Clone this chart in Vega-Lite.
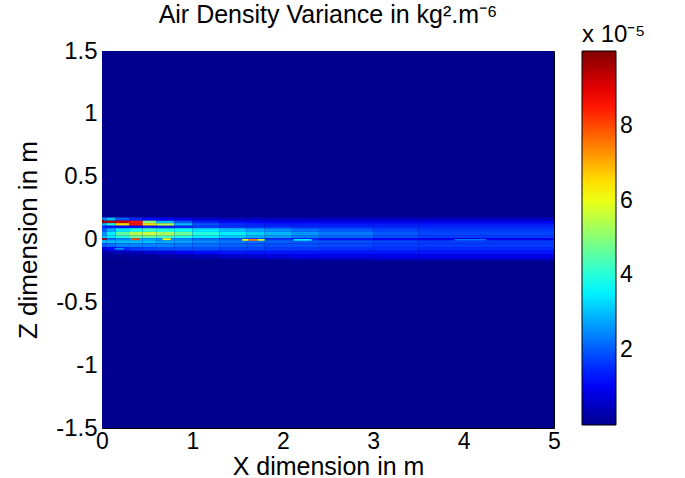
{
 "$schema": "https://vega.github.io/schema/vega-lite/v6.json",
 "width": 452,
 "height": 377,
 "autosize": {"type": "none"},
 "padding": {"left": 102, "top": 51, "right": 131, "bottom": 50},
 "background": "white",
 "title": {"text": "Air Density Variance in kg².m⁻⁶", "fontSize": 25, "font": "Liberation Sans", "fontWeight": "normal", "color": "black", "offset": 0, "dy": 5, "frame": "group", "anchor": "middle"},
 "data": {"values": [
  {"a":0,"b":5,"c":-1.5,"d":1.5,"v":0},
  {"a":0,"b":0.05,"c":0.15,"d":0.175,"v":2.5},{"a":0.05,"b":0.15,"c":0.15,"d":0.175,"v":3},{"a":0.15,"b":0.3,"c":0.15,"d":0.175,"v":2},{"a":0.3,"b":0.45,"c":0.15,"d":0.175,"v":1.5},{"a":0.45,"b":0.6,"c":0.15,"d":0.175,"v":1.2},{"a":0.6,"b":0.8,"c":0.15,"d":0.175,"v":1},{"a":0.8,"b":1,"c":0.15,"d":0.175,"v":0.9},{"a":1,"b":1.3,"c":0.15,"d":0.175,"v":0.6},{"a":1.3,"b":1.6,"c":0.15,"d":0.175,"v":0.5},{"a":1.6,"b":1.8,"c":0.15,"d":0.175,"v":0.5},{"a":1.8,"b":2.1,"c":0.15,"d":0.175,"v":0.5},{"a":2.1,"b":2.4,"c":0.15,"d":0.175,"v":0.5},{"a":2.4,"b":3,"c":0.15,"d":0.175,"v":0.5},{"a":3,"b":3.5,"c":0.15,"d":0.175,"v":0.5},{"a":3.5,"b":5,"c":0.15,"d":0.175,"v":0.5},
  {"a":0,"b":0.05,"c":0.13,"d":0.15,"v":9.8},{"a":0.05,"b":0.15,"c":0.13,"d":0.15,"v":9.5},{"a":0.15,"b":0.3,"c":0.13,"d":0.15,"v":9.2},{"a":0.3,"b":0.45,"c":0.13,"d":0.15,"v":8.5},{"a":0.45,"b":0.6,"c":0.13,"d":0.15,"v":5},{"a":0.6,"b":0.8,"c":0.13,"d":0.15,"v":3},{"a":0.8,"b":1,"c":0.13,"d":0.15,"v":2},{"a":1,"b":1.3,"c":0.13,"d":0.15,"v":1.4},{"a":1.3,"b":1.6,"c":0.13,"d":0.15,"v":1.2},{"a":1.6,"b":1.8,"c":0.13,"d":0.15,"v":1.1},{"a":1.8,"b":2.1,"c":0.13,"d":0.15,"v":1},{"a":2.1,"b":2.4,"c":0.13,"d":0.15,"v":1},{"a":2.4,"b":3,"c":0.13,"d":0.15,"v":1},{"a":3,"b":3.5,"c":0.13,"d":0.15,"v":1},{"a":3.5,"b":5,"c":0.13,"d":0.15,"v":1},
  {"a":0,"b":0.05,"c":0.11,"d":0.13,"v":3},{"a":0.05,"b":0.15,"c":0.11,"d":0.13,"v":4},{"a":0.15,"b":0.3,"c":0.11,"d":0.13,"v":6.5},{"a":0.3,"b":0.45,"c":0.11,"d":0.13,"v":8.5},{"a":0.45,"b":0.6,"c":0.11,"d":0.13,"v":6.5},{"a":0.6,"b":0.8,"c":0.11,"d":0.13,"v":5.5},{"a":0.8,"b":1,"c":0.11,"d":0.13,"v":3},{"a":1,"b":1.3,"c":0.11,"d":0.13,"v":2},{"a":1.3,"b":1.6,"c":0.11,"d":0.13,"v":1.6},{"a":1.6,"b":1.8,"c":0.11,"d":0.13,"v":1.5},{"a":1.8,"b":2.1,"c":0.11,"d":0.13,"v":1.4},{"a":2.1,"b":2.4,"c":0.11,"d":0.13,"v":1.4},{"a":2.4,"b":3,"c":0.11,"d":0.13,"v":1.4},{"a":3,"b":3.5,"c":0.11,"d":0.13,"v":1.4},{"a":3.5,"b":5,"c":0.11,"d":0.13,"v":1.4},
  {"a":0,"b":0.05,"c":0.09,"d":0.11,"v":1.5},{"a":0.05,"b":0.15,"c":0.09,"d":0.11,"v":1.3},{"a":0.15,"b":0.3,"c":0.09,"d":0.11,"v":1.2},{"a":0.3,"b":0.45,"c":0.09,"d":0.11,"v":1.3},{"a":0.45,"b":0.6,"c":0.09,"d":0.11,"v":1.4},{"a":0.6,"b":0.8,"c":0.09,"d":0.11,"v":1.4},{"a":0.8,"b":1,"c":0.09,"d":0.11,"v":1.5},{"a":1,"b":1.3,"c":0.09,"d":0.11,"v":1.7},{"a":1.3,"b":1.6,"c":0.09,"d":0.11,"v":1.6},{"a":1.6,"b":1.8,"c":0.09,"d":0.11,"v":1.6},{"a":1.8,"b":2.1,"c":0.09,"d":0.11,"v":1.6},{"a":2.1,"b":2.4,"c":0.09,"d":0.11,"v":1.5},{"a":2.4,"b":3,"c":0.09,"d":0.11,"v":1.5},{"a":3,"b":3.5,"c":0.09,"d":0.11,"v":1.5},{"a":3.5,"b":5,"c":0.09,"d":0.11,"v":1.5},
  {"a":0,"b":0.05,"c":0.06,"d":0.09,"v":2},{"a":0.05,"b":0.15,"c":0.06,"d":0.09,"v":2.8},{"a":0.15,"b":0.3,"c":0.06,"d":0.09,"v":3.4},{"a":0.3,"b":0.45,"c":0.06,"d":0.09,"v":4},{"a":0.45,"b":0.6,"c":0.06,"d":0.09,"v":4.2},{"a":0.6,"b":0.8,"c":0.06,"d":0.09,"v":4},{"a":0.8,"b":1,"c":0.06,"d":0.09,"v":3.8},{"a":1,"b":1.3,"c":0.06,"d":0.09,"v":3.4},{"a":1.3,"b":1.6,"c":0.06,"d":0.09,"v":3},{"a":1.6,"b":1.8,"c":0.06,"d":0.09,"v":2.7},{"a":1.8,"b":2.1,"c":0.06,"d":0.09,"v":2.5},{"a":2.1,"b":2.4,"c":0.06,"d":0.09,"v":2.2},{"a":2.4,"b":3,"c":0.06,"d":0.09,"v":2},{"a":3,"b":3.5,"c":0.06,"d":0.09,"v":1.8},{"a":3.5,"b":5,"c":0.06,"d":0.09,"v":1.7},
  {"a":0,"b":0.05,"c":0.03,"d":0.06,"v":2.5},{"a":0.05,"b":0.15,"c":0.03,"d":0.06,"v":3.5},{"a":0.15,"b":0.3,"c":0.03,"d":0.06,"v":4.6},{"a":0.3,"b":0.45,"c":0.03,"d":0.06,"v":5.4},{"a":0.45,"b":0.6,"c":0.03,"d":0.06,"v":5.6},{"a":0.6,"b":0.8,"c":0.03,"d":0.06,"v":5.3},{"a":0.8,"b":1,"c":0.03,"d":0.06,"v":4.7},{"a":1,"b":1.3,"c":0.03,"d":0.06,"v":4},{"a":1.3,"b":1.6,"c":0.03,"d":0.06,"v":3.5},{"a":1.6,"b":1.8,"c":0.03,"d":0.06,"v":3.2},{"a":1.8,"b":2.1,"c":0.03,"d":0.06,"v":2.9},{"a":2.1,"b":2.4,"c":0.03,"d":0.06,"v":2.6},{"a":2.4,"b":3,"c":0.03,"d":0.06,"v":2.3},{"a":3,"b":3.5,"c":0.03,"d":0.06,"v":2},{"a":3.5,"b":5,"c":0.03,"d":0.06,"v":1.8},
  {"a":0,"b":0.05,"c":0.01,"d":0.03,"v":3},{"a":0.05,"b":0.15,"c":0.01,"d":0.03,"v":3.4},{"a":0.15,"b":0.3,"c":0.01,"d":0.03,"v":4},{"a":0.3,"b":0.45,"c":0.01,"d":0.03,"v":4.6},{"a":0.45,"b":0.6,"c":0.01,"d":0.03,"v":4.6},{"a":0.6,"b":0.8,"c":0.01,"d":0.03,"v":4.3},{"a":0.8,"b":1,"c":0.01,"d":0.03,"v":4},{"a":1,"b":1.3,"c":0.01,"d":0.03,"v":3.5},{"a":1.3,"b":1.6,"c":0.01,"d":0.03,"v":3.1},{"a":1.6,"b":1.8,"c":0.01,"d":0.03,"v":2.8},{"a":1.8,"b":2.1,"c":0.01,"d":0.03,"v":2.6},{"a":2.1,"b":2.4,"c":0.01,"d":0.03,"v":2.3},{"a":2.4,"b":3,"c":0.01,"d":0.03,"v":2.1},{"a":3,"b":3.5,"c":0.01,"d":0.03,"v":1.9},{"a":3.5,"b":5,"c":0.01,"d":0.03,"v":1.7},
  {"a":0,"b":0.05,"c":-0.005,"d":0.01,"v":9.5},{"a":0.05,"b":0.15,"c":-0.005,"d":0.01,"v":2.2},{"a":0.15,"b":0.3,"c":-0.005,"d":0.01,"v":2.5},{"a":0.3,"b":0.45,"c":-0.005,"d":0.01,"v":2.8},{"a":0.45,"b":0.6,"c":-0.005,"d":0.01,"v":2.8},{"a":0.6,"b":0.8,"c":-0.005,"d":0.01,"v":2.6},{"a":0.8,"b":1,"c":-0.005,"d":0.01,"v":2.5},{"a":1,"b":1.3,"c":-0.005,"d":0.01,"v":2.2},{"a":1.3,"b":1.6,"c":-0.005,"d":0.01,"v":2},{"a":1.6,"b":1.8,"c":-0.005,"d":0.01,"v":1.8},{"a":1.8,"b":2.1,"c":-0.005,"d":0.01,"v":1.6},{"a":2.1,"b":2.4,"c":-0.005,"d":0.01,"v":1.5},{"a":2.4,"b":3,"c":-0.005,"d":0.01,"v":1.3},{"a":3,"b":3.5,"c":-0.005,"d":0.01,"v":1.1},{"a":3.5,"b":5,"c":-0.005,"d":0.01,"v":1},
  {"a":0,"b":0.05,"c":-0.03,"d":-0.005,"v":3},{"a":0.05,"b":0.15,"c":-0.03,"d":-0.005,"v":3},{"a":0.15,"b":0.3,"c":-0.03,"d":-0.005,"v":3},{"a":0.3,"b":0.45,"c":-0.03,"d":-0.005,"v":3},{"a":0.45,"b":0.6,"c":-0.03,"d":-0.005,"v":3},{"a":0.6,"b":0.8,"c":-0.03,"d":-0.005,"v":2.8},{"a":0.8,"b":1,"c":-0.03,"d":-0.005,"v":2.7},{"a":1,"b":1.3,"c":-0.03,"d":-0.005,"v":2.5},{"a":1.3,"b":1.6,"c":-0.03,"d":-0.005,"v":2.3},{"a":1.6,"b":1.8,"c":-0.03,"d":-0.005,"v":2.2},{"a":1.8,"b":2.1,"c":-0.03,"d":-0.005,"v":2.1},{"a":2.1,"b":2.4,"c":-0.03,"d":-0.005,"v":2},{"a":2.4,"b":3,"c":-0.03,"d":-0.005,"v":1.9},{"a":3,"b":3.5,"c":-0.03,"d":-0.005,"v":1.8},{"a":3.5,"b":5,"c":-0.03,"d":-0.005,"v":1.7},
  {"a":0,"b":0.05,"c":-0.06,"d":-0.03,"v":2},{"a":0.05,"b":0.15,"c":-0.06,"d":-0.03,"v":2.2},{"a":0.15,"b":0.3,"c":-0.06,"d":-0.03,"v":2.4},{"a":0.3,"b":0.45,"c":-0.06,"d":-0.03,"v":2.4},{"a":0.45,"b":0.6,"c":-0.06,"d":-0.03,"v":2.4},{"a":0.6,"b":0.8,"c":-0.06,"d":-0.03,"v":2.4},{"a":0.8,"b":1,"c":-0.06,"d":-0.03,"v":2.3},{"a":1,"b":1.3,"c":-0.06,"d":-0.03,"v":2.2},{"a":1.3,"b":1.6,"c":-0.06,"d":-0.03,"v":2.1},{"a":1.6,"b":1.8,"c":-0.06,"d":-0.03,"v":2},{"a":1.8,"b":2.1,"c":-0.06,"d":-0.03,"v":1.9},{"a":2.1,"b":2.4,"c":-0.06,"d":-0.03,"v":1.9},{"a":2.4,"b":3,"c":-0.06,"d":-0.03,"v":1.8},{"a":3,"b":3.5,"c":-0.06,"d":-0.03,"v":1.7},{"a":3.5,"b":5,"c":-0.06,"d":-0.03,"v":1.7},
  {"a":0,"b":0.05,"c":-0.09,"d":-0.06,"v":0.8},{"a":0.05,"b":0.15,"c":-0.09,"d":-0.06,"v":1.2},{"a":0.15,"b":0.3,"c":-0.09,"d":-0.06,"v":1.5},{"a":0.3,"b":0.45,"c":-0.09,"d":-0.06,"v":1.7},{"a":0.45,"b":0.6,"c":-0.09,"d":-0.06,"v":1.8},{"a":0.6,"b":0.8,"c":-0.09,"d":-0.06,"v":1.9},{"a":0.8,"b":1,"c":-0.09,"d":-0.06,"v":1.9},{"a":1,"b":1.3,"c":-0.09,"d":-0.06,"v":1.9},{"a":1.3,"b":1.6,"c":-0.09,"d":-0.06,"v":1.8},{"a":1.6,"b":1.8,"c":-0.09,"d":-0.06,"v":1.8},{"a":1.8,"b":2.1,"c":-0.09,"d":-0.06,"v":1.7},{"a":2.1,"b":2.4,"c":-0.09,"d":-0.06,"v":1.7},{"a":2.4,"b":3,"c":-0.09,"d":-0.06,"v":1.6},{"a":3,"b":3.5,"c":-0.09,"d":-0.06,"v":1.6},{"a":3.5,"b":5,"c":-0.09,"d":-0.06,"v":1.5},
  {"a":0,"b":0.05,"c":-0.12,"d":-0.09,"v":0.2},{"a":0.05,"b":0.15,"c":-0.12,"d":-0.09,"v":0.3},{"a":0.15,"b":0.3,"c":-0.12,"d":-0.09,"v":0.4},{"a":0.3,"b":0.45,"c":-0.12,"d":-0.09,"v":0.5},{"a":0.45,"b":0.6,"c":-0.12,"d":-0.09,"v":0.6},{"a":0.6,"b":0.8,"c":-0.12,"d":-0.09,"v":0.8},{"a":0.8,"b":1,"c":-0.12,"d":-0.09,"v":1},{"a":1,"b":1.3,"c":-0.12,"d":-0.09,"v":1.2},{"a":1.3,"b":1.6,"c":-0.12,"d":-0.09,"v":1.3},{"a":1.6,"b":1.8,"c":-0.12,"d":-0.09,"v":1.3},{"a":1.8,"b":2.1,"c":-0.12,"d":-0.09,"v":1.3},{"a":2.1,"b":2.4,"c":-0.12,"d":-0.09,"v":1.3},{"a":2.4,"b":3,"c":-0.12,"d":-0.09,"v":1.3},{"a":3,"b":3.5,"c":-0.12,"d":-0.09,"v":1.3},{"a":3.5,"b":5,"c":-0.12,"d":-0.09,"v":1.3},
  {"a":0,"b":0.05,"c":-0.15,"d":-0.12,"v":0.05},{"a":0.05,"b":0.15,"c":-0.15,"d":-0.12,"v":0.05},{"a":0.15,"b":0.3,"c":-0.15,"d":-0.12,"v":0.05},{"a":0.3,"b":0.45,"c":-0.15,"d":-0.12,"v":0.1},{"a":0.45,"b":0.6,"c":-0.15,"d":-0.12,"v":0.1},{"a":0.6,"b":0.8,"c":-0.15,"d":-0.12,"v":0.2},{"a":0.8,"b":1,"c":-0.15,"d":-0.12,"v":0.3},{"a":1,"b":1.3,"c":-0.15,"d":-0.12,"v":0.4},{"a":1.3,"b":1.6,"c":-0.15,"d":-0.12,"v":0.6},{"a":1.6,"b":1.8,"c":-0.15,"d":-0.12,"v":0.7},{"a":1.8,"b":2.1,"c":-0.15,"d":-0.12,"v":0.8},{"a":2.1,"b":2.4,"c":-0.15,"d":-0.12,"v":0.9},{"a":2.4,"b":3,"c":-0.15,"d":-0.12,"v":0.9},{"a":3,"b":3.5,"c":-0.15,"d":-0.12,"v":0.9},{"a":3.5,"b":5,"c":-0.15,"d":-0.12,"v":0.9},
  {"a":1,"b":1.3,"c":-0.17,"d":-0.15,"v":0.1},{"a":1.3,"b":1.6,"c":-0.17,"d":-0.15,"v":0.1},{"a":1.6,"b":1.8,"c":-0.17,"d":-0.15,"v":0.1},{"a":1.8,"b":2.1,"c":-0.17,"d":-0.15,"v":0.2},{"a":2.1,"b":2.4,"c":-0.17,"d":-0.15,"v":0.3},{"a":2.4,"b":3,"c":-0.17,"d":-0.15,"v":0.4},{"a":3,"b":3.5,"c":-0.17,"d":-0.15,"v":0.5},{"a":3.5,"b":5,"c":-0.17,"d":-0.15,"v":0.5},
  {"a":0,"b":0.02,"c":0.13,"d":0.16,"v":10},
  {"a":0.14,"b":0.24,"c":-0.08,"d":-0.068,"v":2.6},
  {"a":0.33,"b":0.42,"c":-0.005,"d":0.01,"v":8},
  {"a":0.67,"b":0.76,"c":-0.005,"d":0.01,"v":6.3},
  {"a":1.55,"b":1.62,"c":-0.01,"d":0.004,"v":5.8},
  {"a":1.62,"b":1.72,"c":-0.01,"d":0.004,"v":7.5},
  {"a":1.72,"b":1.8,"c":-0.01,"d":0.004,"v":5.5},
  {"a":2.12,"b":2.32,"c":-0.01,"d":0.004,"v":3.4},
  {"a":3.9,"b":4.25,"c":-0.008,"d":0.004,"v":2.3}
 ]},
 "mark": {"type": "rect", "strokeWidth": 0},
 "encoding": {
  "x": {"field": "a", "type": "quantitative", "title": "X dimension in m",
        "scale": {"domain": [0, 5], "nice": false, "zero": false},
        "axis": {"values": [0, 1, 2, 3, 4, 5], "labelPadding": 2, "titlePadding": 1, "labelFlush": false, "labelExpr": "datum.value + ''", "labelFontSize": 23, "titleFontSize": 25}},
  "x2": {"field": "b"},
  "y": {"field": "c", "type": "quantitative", "title": "Z dimension in m",
        "scale": {"domain": [-1.5, 1.5], "nice": false, "zero": false},
        "axis": {"values": [-1.5, -1, -0.5, 0, 0.5, 1, 1.5], "labelPadding": 5, "titlePadding": 14, "labelFlush": false, "labelExpr": "datum.value + ''"}},
  "y2": {"field": "d"},
  "color": {"field": "v", "type": "quantitative",
            "scale": {"domain": [0, 1.11, 3.65, 6.19, 8.73, 10], "range": ["#00008F", "#0000FF", "#00FFFF", "#FFFF00", "#FF0000", "#800000"], "interpolate": "rgb"},
            "legend": {"type": "gradient", "orient": "none", "legendX": 480, "legendY": -28, "direction": "vertical", "gradientLength": 374, "gradientThickness": 34,
                       "gradientStrokeColor": "black", "gradientStrokeWidth": 1, "values": [2, 4, 6, 8],
                       "labelFontSize": 23, "labelFont": "Liberation Sans", "labelColor": "black", "labelOffset": 4,
                       "title": "x 10⁻⁵", "titleFontSize": 24, "titleFont": "Liberation Sans", "titleFontWeight": "normal", "titleColor": "black", "titlePadding": 4}}
 },
 "config": {
  "view": {"stroke": "black", "strokeWidth": 1},
  "axis": {"ticks": false, "grid": false, "domainColor": "black", "labelFont": "Liberation Sans", "labelFontSize": 24, "labelColor": "black",
           "titleFont": "Liberation Sans", "titleFontSize": 26, "titleFontWeight": "normal", "titleColor": "black"}
 }
}
